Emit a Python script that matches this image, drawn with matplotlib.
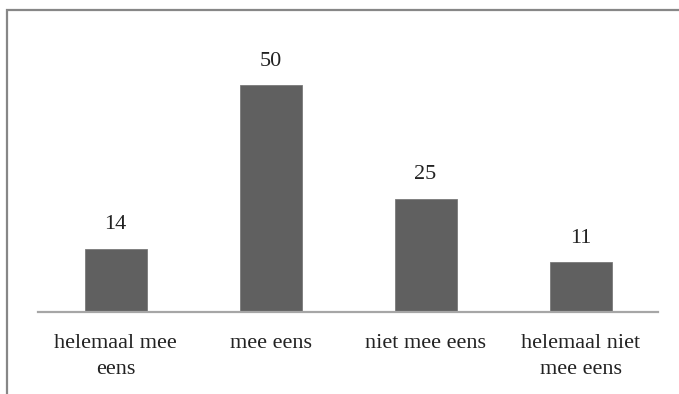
import matplotlib
matplotlib.use("Agg")
import matplotlib.pyplot as plt
from matplotlib.patches import Rectangle

categories = ["helemaal mee\neens", "mee eens", "niet mee eens", "helemaal niet\nmee eens"]
values = [14, 50, 25, 11]

W, H, DPI = 679, 394, 100
fig = plt.figure(figsize=(W / DPI, H / DPI), dpi=DPI)
fig.patch.set_facecolor("white")

# outer chart frame (open at right and bottom)
fig.patches.append(Rectangle((7 / W, -0.1), 1.2, (H - 10) / H + 0.1,
                             transform=fig.transFigure, fill=False,
                             edgecolor="#878787", linewidth=1.6))

left, right = 38, 658
base, top = 312, 40
ax = fig.add_axes([left / W, (H - base) / H, (right - left) / W, (base - top) / H])

font = ["Liberation Serif", "DejaVu Serif"]
x = range(len(values))
bars = ax.bar(x, values, width=0.4, color="#606060", edgecolor="#7a7a7a", linewidth=0.6)

ax.set_xlim(-0.5, len(values) - 0.5)
ax.set_ylim(0, 60)
for s in ("top", "right", "left"):
    ax.spines[s].set_visible(False)
ax.spines["bottom"].set_color("#a6a6a6")
ax.spines["bottom"].set_linewidth(1.6)
ax.set_yticks([])
ax.set_xticks(list(x))
ax.set_xticklabels(categories, fontsize=16, family=font, color="#222222", linespacing=1.45)
ax.tick_params(axis="x", length=0, pad=16)

for b, v in zip(bars, values):
    ax.annotate(str(v), (b.get_x() + b.get_width() / 2, v), xytext=(0, 10.5),
                textcoords="offset points", ha="center", va="bottom",
                fontsize=16, family=font, color="#222222")

fig.savefig("out.png", dpi=DPI, facecolor="white")
